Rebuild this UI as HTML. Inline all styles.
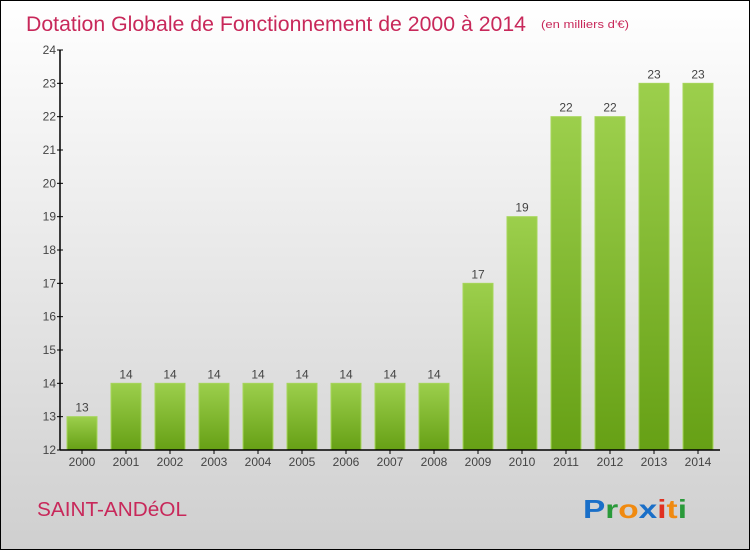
<!DOCTYPE html>
<html><head><meta charset="utf-8"><style>
body{margin:0}
#wrap{position:relative;width:748px;height:548px;border:1px solid #000;background:linear-gradient(#ffffff,#cfcfcf);font-family:"Liberation Sans",sans-serif;overflow:hidden}
</style></head><body>
<div id="wrap">
<svg id="chart" width="748" height="548" style="position:absolute;left:0;top:0">
<defs><linearGradient id="g" x1="0" y1="0" x2="0" y2="1"><stop offset="0" stop-color="#9ccf4c"/><stop offset="1" stop-color="#66a015"/></linearGradient></defs>
<text x="25" y="30" font-size="21" fill="#c8285a" textLength="500" lengthAdjust="spacingAndGlyphs">Dotation Globale de Fonctionnement de 2000 à 2014</text>
<text x="540" y="27" font-size="11" fill="#c8285a" textLength="88" lengthAdjust="spacingAndGlyphs">(en milliers d'€)</text>
<text x="36" y="515" font-size="20" fill="#c8285a" textLength="150" lengthAdjust="spacingAndGlyphs">SAINT-ANDéOL</text>
<text x="582" y="517" font-size="26" font-weight="bold" textLength="104" lengthAdjust="spacingAndGlyphs"><tspan fill="#1a6fc8">P</tspan><tspan fill="#2a9a3a">r</tspan><tspan fill="#f08a10">o</tspan><tspan fill="#1a6fc8">x</tspan><tspan fill="#e03020">i</tspan><tspan fill="#f08a10">t</tspan><tspan fill="#2a9a3a">i</tspan></text>
</svg>
</div>
<script>
const categories=["2000","2001","2002","2003","2004","2005","2006","2007","2008","2009","2010","2011","2012","2013","2014"];
const values=[13,14,14,14,14,14,14,14,14,17,19,22,22,23,23];
const yTicks=[12,13,14,15,16,17,18,19,20,21,22,23,24];
const svg=document.getElementById('chart');const NS='http://www.w3.org/2000/svg';
const x0=59,band=44,yMin=12,yMax=24,yTop=49,yBot=449;
const y=v=>yBot-(v-yMin)/(yMax-yMin)*(yBot-yTop);
const xc=i=>x0+band*i+band/2;
function el(t,a){const e=document.createElementNS(NS,t);for(const k in a)e.setAttribute(k,a[k]);svg.appendChild(e);return e;}
values.forEach((v,i)=>{
 const r=el('rect',{x:xc(i)-15,y:y(v),width:30,height:yBot-y(v),fill:'url(#g)',stroke:'#a6d65a','stroke-width':1});
 
 
 const t=el('text',{x:xc(i),y:y(v)-5,'text-anchor':'middle','font-size':12,fill:'#444'});t.textContent=v;
 
 
 const c=el('text',{x:xc(i),y:yBot+16,'text-anchor':'middle','font-size':12,fill:'#444'});c.textContent=categories[i];
 
 
 const tk=el('line',{x1:xc(i),x2:xc(i),y1:yBot,y2:yBot+4,stroke:'#000'});
 
 
});
yTicks.forEach(v=>{
 const l=el('line',{x1:x0-3,x2:x0+3,y1:y(v),y2:y(v),stroke:'#000'});
 
 
 const t=el('text',{x:x0-4,y:y(v)+4,'text-anchor':'end','font-size':12,fill:'#444'});t.textContent=v;
 
 
});
const ya=el('line',{x1:x0,x2:x0,y1:yTop,y2:yBot,stroke:'#000','stroke-width':1.5});


const xa=el('line',{x1:x0,x2:x0+band*categories.length,y1:yBot,y2:yBot,stroke:'#000','stroke-width':1.5});


</script>
</body></html>
